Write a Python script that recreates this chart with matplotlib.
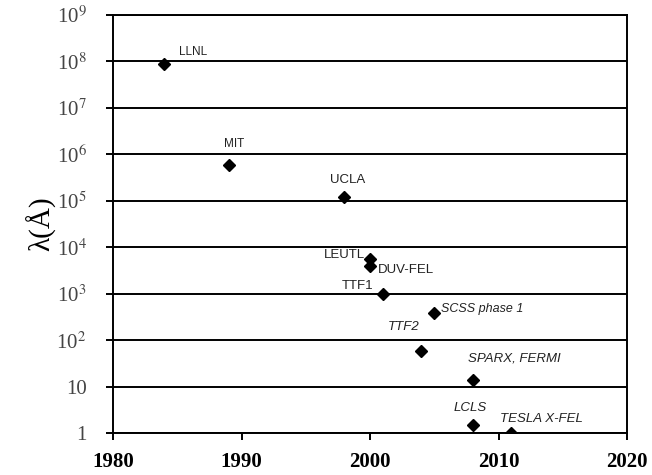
import numpy as np
import matplotlib
matplotlib.use("Agg")
import matplotlib.pyplot as plt

# FEL facilities: year vs. wavelength (Angstrom)
names = ["LLNL", "MIT", "UCLA", "LEUTL", "DUV-FEL", "TTF1",
         "SCSS phase 1", "TTF2", "SPARX, FERMI", "LCLS", "TESLA X-FEL"]
years = [1984, 1989, 1998, 2000, 2000, 2001, 2005, 2004, 2008, 2008, 2011]
wavelengths = [9e7, 5.8e5, 1.2e5, 5.6e3, 3.9e3, 1e3, 390, 59, 13.7, 1.5, 1.0]

ytick_vals = [1, 10, 1e2, 1e3, 1e4, 1e5, 1e6, 1e7, 1e8, 1e9]
ytick_labels = ["1", "10", "10$^{2}$", "10$^{3}$", "10$^{4}$", "10$^{5}$",
                "10$^{6}$", "10$^{7}$", "10$^{8}$", "10$^{9}$"]
xtick_vals = [1980, 1990, 2000, 2010, 2020]

# label placement (pixel offset, alignment, italic, size)
label_style = {
    "LLNL":         ((15, 6), "left", False, 8.5),
    "MIT":          ((-5, 15), "left", False, 8.5),
    "UCLA":         ((-14, 11), "left", False, 9.5),
    "LEUTL":        ((-5, -2), "right", False, 9.5),
    "DUV-FEL":      ((8, -10), "left", False, 9.5),
    "TTF1":         ((-9, 2), "right", False, 9.5),
    "SCSS phase 1": ((7, -2), "left", True, 9),
    "TTF2":         ((-2, 18), "right", True, 9.5),
    "SPARX, FERMI": ((-5, 16), "left", True, 9.5),
    "LCLS":         ((-19, 11), "left", True, 9.5),
    "TESLA X-FEL":  ((-11, 8), "left", True, 9.5),
}

plt.rcParams["mathtext.fontset"] = "stix"

fig = plt.figure(figsize=(6.52, 4.75), dpi=100)
ax = fig.add_axes([0.1733, 0.0884, 0.7884, 0.88])

ax.set_yscale("log")
ax.set_xlim(1980, 2020)
ax.set_ylim(1, 1e9)

for v in ytick_vals:
    ax.axhline(v, color="black", lw=1.4, zorder=1)

ax.plot(years, wavelengths, "D", color="black", markersize=6.5, zorder=3)

for n, x, y in zip(names, years, wavelengths):
    off, ha, it, fs = label_style[n]
    ax.annotate(n, (x, y), xytext=off, textcoords="offset pixels",
                ha=ha, va="bottom", fontsize=fs, family="Liberation Sans",
                style="italic" if it else "normal", color="#222222")

ax.set_yticks(ytick_vals)
ax.set_yticklabels(ytick_labels, family="Liberation Serif", fontsize=15,
                   color="#444444")
ax.yaxis.set_minor_locator(matplotlib.ticker.NullLocator())
ax.set_xticks(xtick_vals)
ax.set_xticklabels([str(v) for v in xtick_vals], family="Liberation Serif",
                   fontsize=15, fontweight="bold")
ax.tick_params(axis="both", direction="out", length=5, width=1.4,
               color="black")
ax.tick_params(axis="x", pad=9)
ax.tick_params(axis="y", pad=14)

for s in ax.spines.values():
    s.set_linewidth(1.4)
    s.set_color("black")

ax.set_ylabel("λ(Å)", family="Liberation Serif", fontsize=21, labelpad=0)

fig.savefig("out.png", dpi=100)
